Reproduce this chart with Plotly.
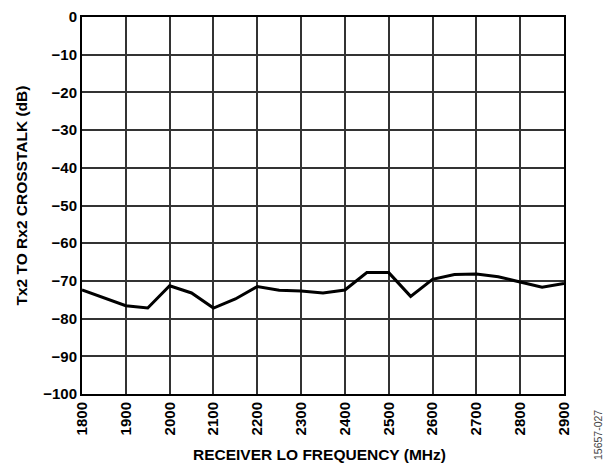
import plotly.graph_objects as go

freq_mhz = [1800, 1850, 1900, 1950, 2000, 2050, 2100, 2150, 2200, 2250, 2300, 2350,
            2400, 2450, 2500, 2550, 2600, 2650, 2700, 2750, 2800, 2850, 2900]
crosstalk_db = [-72.4, -74.6, -76.6, -77.2, -71.3, -73.2, -77.2, -74.8, -71.5, -72.5, -72.7, -73.2,
                -72.4, -67.8, -67.8, -74.1, -69.6, -68.3, -68.2, -68.9, -70.3, -71.7, -70.7]

x_ticks = list(range(1800, 2901, 100))
y_ticks = list(range(-100, 1, 10))

x_title = "RECEIVER LO FREQUENCY (MHz)"
y_title = "Tx2 TO Rx2 CROSSTALK (dB)"

font = "Liberation Sans, Arial, sans-serif"

fig = go.Figure()
fig.add_trace(go.Scatter(
    x=freq_mhz, y=crosstalk_db,
    mode="lines",
    line=dict(color="black", width=3),
    hoverinfo="x+y"
))

# page has an 8px body margin, so the figure is a bit smaller than the window
fig.update_layout(
    width=605, height=456,
    margin=dict(l=74, r=49, t=9, b=70),
    plot_bgcolor="white",
    paper_bgcolor="white",
    showlegend=False,
    font=dict(family=font, color="black")
)

fig.update_xaxes(
    range=[1800, 2900],
    tickvals=x_ticks,
    tickangle=-90,
    tickfont=dict(size=15, family=font, weight="bold"),
    showgrid=True, gridcolor="#333333", gridwidth=1.5,
    showline=True, linecolor="black", linewidth=2, mirror=True,
    zeroline=False, ticks="", automargin=False, ticklabeloverflow="allow"
)
fig.update_yaxes(
    range=[-100, 0],
    tickvals=y_ticks,
    tickfont=dict(size=15, family=font, weight="bold"),
    showgrid=True, gridcolor="#333333", gridwidth=1.5,
    showline=True, linecolor="black", linewidth=2, mirror=True,
    zeroline=False, ticks="", automargin=False, ticklabeloverflow="allow"
)

# axis titles placed as annotations to get the exact spots
fig.add_annotation(
    text=f"<b>{x_title}</b>", xref="paper", yref="paper",
    x=0.5, xshift=-4, xanchor="center",
    y=0, yshift=-60, yanchor="middle",
    showarrow=False, font=dict(size=15.5, family=font, color="black")
)
fig.add_annotation(
    text=f"<b>{y_title}</b>", xref="paper", yref="paper",
    x=0, xshift=-61, xanchor="center",
    y=0.5, yshift=10, yanchor="middle",
    textangle=-90, showarrow=False,
    font=dict(size=15.5, family=font, color="black")
)

fig.add_annotation(
    text="15657-027", xref="paper", yref="paper",
    x=1.0, xshift=34, xanchor="center",
    y=0, yshift=-41, yanchor="middle",
    textangle=-90, showarrow=False,
    font=dict(size=10.5, color="#444444", family=font)
)

fig.write_html("out.html")
